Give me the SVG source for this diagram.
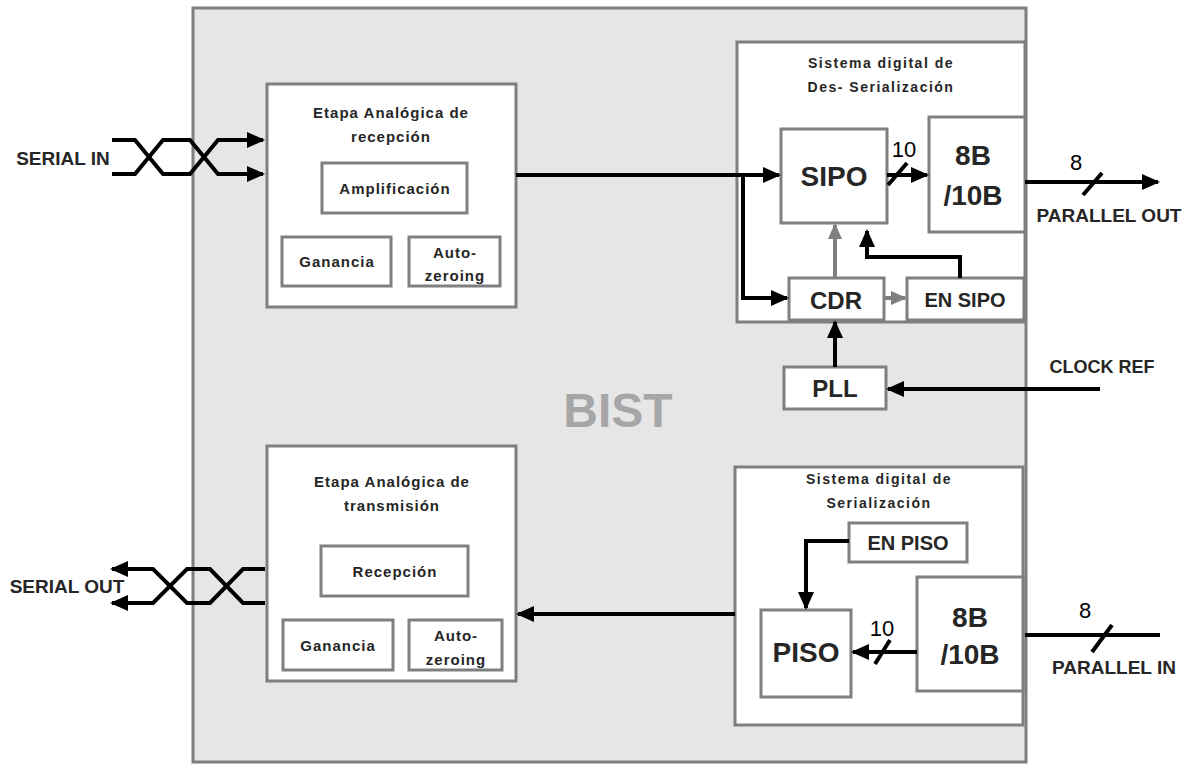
<svg xmlns="http://www.w3.org/2000/svg" width="1185" height="766" viewBox="0 0 1185 766">
<defs>
<marker id="ah" markerUnits="userSpaceOnUse" markerWidth="18" markerHeight="16" refX="16" refY="8" orient="auto"><path d="M0,0 L18,8 L0,16 Z" fill="#000"/></marker>
<marker id="ahg" markerUnits="userSpaceOnUse" markerWidth="16" markerHeight="14" refX="14" refY="7" orient="auto"><path d="M0,0 L16,7 L0,14 Z" fill="#7f7f7f"/></marker>
<style>
.box{fill:#fff;stroke:#7f7f7f;stroke-width:3}
.t{font-family:"Liberation Sans",Arial,sans-serif;font-weight:bold;fill:#262626;text-anchor:middle}
.s{font-size:15px;letter-spacing:1px}
.h{font-size:14px;letter-spacing:1.5px}
.n{font-family:"Liberation Sans",Arial,sans-serif;fill:#000;text-anchor:middle}
.w{fill:none;stroke:#000;stroke-width:4}
.g{fill:none;stroke:#7f7f7f;stroke-width:4}
</style>
</defs>
<g id="bist">
<rect x="193" y="8" width="833" height="754" fill="#e6e6e6" stroke="#7f7f7f" stroke-width="3"/>
<text class="t" x="618" y="427" font-size="48" style="fill:#a6a6a6">BIST</text>
</g>
<g id="rx-analog">
<rect class="box" x="267" y="84" width="249" height="223"/>
<text class="t s" x="391" y="118">Etapa Analógica de</text>
<text class="t s" x="391" y="142">recepción</text>
<rect class="box" x="322" y="163" width="145" height="50"/>
<text class="t s" x="395" y="194">Amplificación</text>
<rect class="box" x="282" y="237" width="109" height="49"/>
<text class="t s" x="337" y="267">Ganancia</text>
<rect class="box" x="409" y="237" width="91" height="49"/>
<text class="t s" x="455" y="258">Auto-</text>
<text class="t s" x="455" y="281">zeroing</text>
</g>
<g id="tx-analog">
<rect class="box" x="267" y="446" width="249" height="235"/>
<text class="t s" x="392" y="487">Etapa Analógica de</text>
<text class="t s" x="392" y="511">transmisión</text>
<rect class="box" x="321" y="546" width="147" height="50"/>
<text class="t s" x="395" y="577">Recepción</text>
<rect class="box" x="283" y="620" width="110" height="50"/>
<text class="t s" x="338" y="651">Ganancia</text>
<rect class="box" x="409" y="620" width="93" height="50"/>
<text class="t s" x="456" y="641">Auto-</text>
<text class="t s" x="456" y="665">zeroing</text>
</g>
<g id="deser">
<rect class="box" x="737" y="42" width="288" height="280"/>
<text class="t h" x="881" y="68">Sistema digital de</text>
<text class="t h" x="881" y="92">Des- Serialización</text>
</g>
<g id="sipo">
<rect class="box" x="781" y="129" width="106" height="94"/>
<text class="t" x="834" y="186" font-size="28">SIPO</text>
</g>
<g id="enc-top">
<rect class="box" x="929" y="117" width="96" height="115"/>
<text class="t" x="973" y="165" font-size="28">8B</text>
<text class="t" x="973" y="205" font-size="28">/10B</text>
</g>
<g id="cdr">
<rect class="box" x="789" y="278" width="95" height="42"/>
<text class="t" x="836" y="309" font-size="24">CDR</text>
</g>
<g id="ensipo">
<rect class="box" x="907" y="278" width="117" height="42"/>
<text class="t" x="965" y="307" font-size="20">EN SIPO</text>
</g>
<g id="pll">
<rect class="box" x="784" y="367" width="102" height="42"/>
<text class="t" x="835" y="397" font-size="24">PLL</text>
</g>
<g id="ser">
<rect class="box" x="735" y="467" width="288" height="258"/>
<text class="t h" x="879" y="484">Sistema digital de</text>
<text class="t h" x="879" y="508">Serialización</text>
</g>
<g id="enpiso">
<rect class="box" x="849" y="523" width="118" height="39"/>
<text class="t" x="908" y="550" font-size="20">EN PISO</text>
</g>
<g id="enc-bot">
<rect class="box" x="917" y="577" width="106" height="114"/>
<text class="t" x="970" y="627" font-size="28">8B</text>
<text class="t" x="970" y="664" font-size="28">/10B</text>
</g>
<g id="piso">
<rect class="box" x="761" y="610" width="90" height="87"/>
<text class="t" x="806" y="662" font-size="28">PISO</text>
</g>
<g id="labels">
<text class="t" x="63" y="165" font-size="19">SERIAL IN</text>
<text class="t" x="67" y="593" font-size="19">SERIAL OUT</text>
<text class="t" x="1109" y="222" font-size="19">PARALLEL OUT</text>
<text class="t" x="1102" y="373" font-size="18">CLOCK REF</text>
<text class="t" x="1114" y="674" font-size="19">PARALLEL IN</text>
<text class="n" x="904" y="157" font-size="22">10</text>
<text class="n" x="1076" y="170" font-size="22">8</text>
<text class="n" x="882" y="636" font-size="22">10</text>
<text class="n" x="1085" y="618" font-size="22">8</text>
</g>
<g id="connectors">
<path class="w" d="M112,140 H135 L163,174 H190 L218,140 H263" marker-end="url(#ah)"/>
<path class="w" d="M112,174 H135 L163,140 H190 L218,174 H263" marker-end="url(#ah)"/>
<path class="w" d="M265,569 H243 L210,603 H187 L153,569 H112" marker-end="url(#ah)"/>
<path class="w" d="M265,603 H243 L210,569 H187 L153,603 H112" marker-end="url(#ah)"/>
<path class="w" d="M516,175 H779" marker-end="url(#ah)"/>
<path class="w" d="M743,175 V298 H787" marker-end="url(#ah)"/>
<path class="w" d="M887,175 H927" marker-end="url(#ah)"/>
<path class="w" d="M888,185 L907,163"/>
<path class="g" d="M835,278 V225" marker-end="url(#ahg)"/>
<path class="g" d="M884,298 H905" marker-end="url(#ahg)"/>
<path class="w" d="M960,278 V257 H867 V231" marker-end="url(#ah)"/>
<path class="w" d="M835,367 V322" marker-end="url(#ah)"/>
<path class="w" d="M1100,389 H888" marker-end="url(#ah)"/>
<path class="w" d="M1025,182 H1158" marker-end="url(#ah)"/>
<path class="w" d="M1083,195 L1102,173"/>
<path class="w" d="M849,541 H806 V608" marker-end="url(#ah)"/>
<path class="w" d="M917,652 H853" marker-end="url(#ah)"/>
<path class="w" d="M875,664 L890,640"/>
<path class="w" d="M1160,635 H1025"/>
<path class="w" d="M1092,652 L1112,625"/>
<path class="w" d="M735,614 H518" marker-end="url(#ah)"/>
</g>
</svg>
